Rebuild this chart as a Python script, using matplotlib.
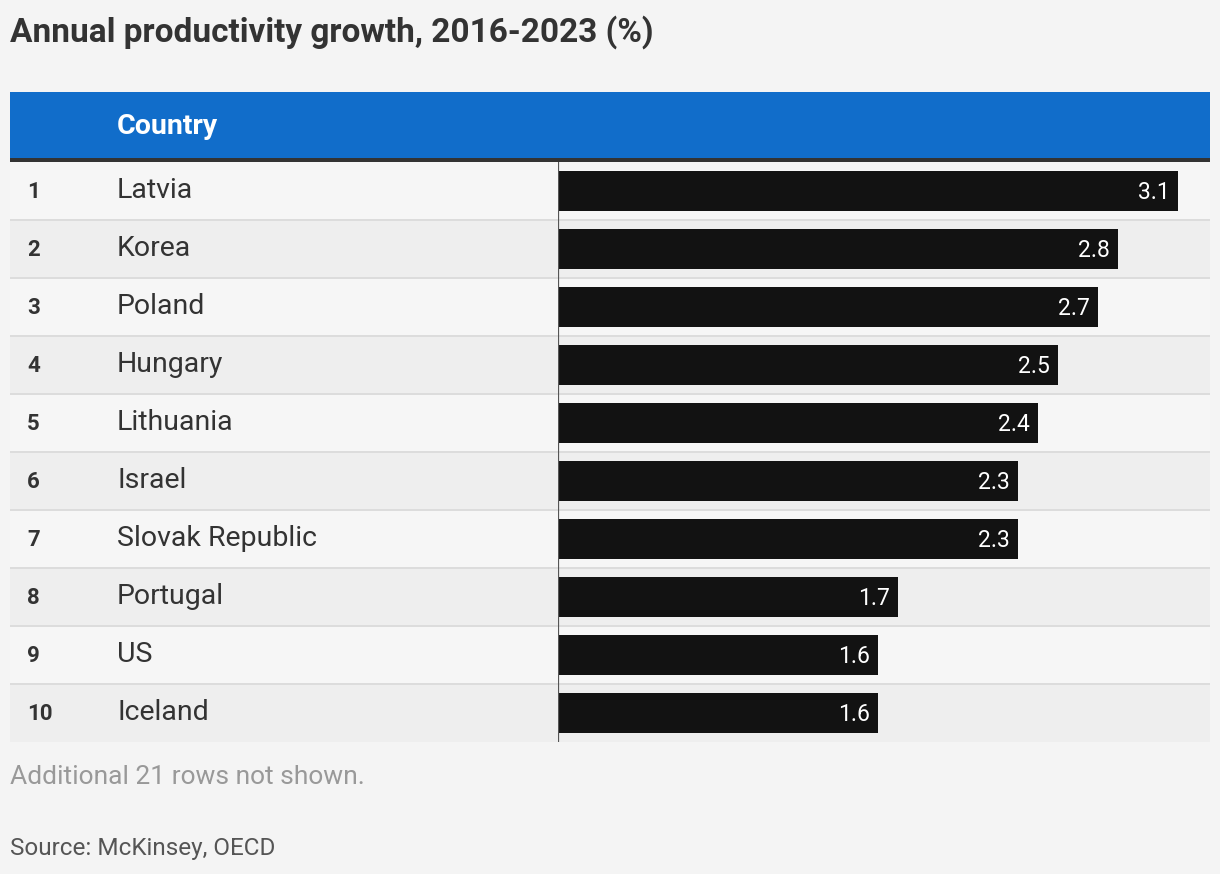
import matplotlib
matplotlib.use("Agg")
import matplotlib.pyplot as plt
from matplotlib.patches import Rectangle

# data
ranks = [1, 2, 3, 4, 5, 6, 7, 8, 9, 10]
countries = ["Latvia", "Korea", "Poland", "Hungary", "Lithuania", "Israel",
             "Slovak Republic", "Portugal", "US", "Iceland"]
growth = [3.1, 2.8, 2.7, 2.5, 2.4, 2.3, 2.3, 1.7, 1.6, 1.6]

title = "Annual productivity growth, 2016-2023 (%)"
header = "Country"
note = "Additional 21 rows not shown."
source = "Source: McKinsey, OECD"

W, H = 1220, 874
BG = "#f4f4f4"
BLUE = "#116dca"
BAR = "#121212"
TXT = "#333333"

plt.rcParams["font.family"] = ["Roboto", "DejaVu Sans"]

fig = plt.figure(figsize=(W / 100, H / 100), dpi=100)
fig.patch.set_facecolor(BG)

# background axes in pixel coordinates
bg = fig.add_axes([0, 0, 1, 1])
bg.set_xlim(0, W)
bg.set_ylim(H, 0)
bg.axis("off")

row_top = 162
row_h = 58
left, right = 10, 1210

# header
bg.add_patch(Rectangle((left, 92), right - left, 68, color=BLUE, lw=0))
bg.add_patch(Rectangle((left, 158), right - left, 4, color="#333333", lw=0))
bg.text(117, 126, header, color="white", fontsize=20.5, fontweight="bold",
        va="center", ha="left")

for i, (r, c) in enumerate(zip(ranks, countries)):
    y0 = row_top + i * row_h
    bg.add_patch(Rectangle((left, y0), right - left, row_h,
                           color="#f6f6f6" if i % 2 == 0 else "#eeeeee", lw=0))
    if i > 0:
        bg.add_patch(Rectangle((left, y0 - 1), right - left, 2, color="#dcdcdc", lw=0))
    bg.text(27, y0 + row_h / 2 + 1, str(r), color=TXT, fontsize=16,
            fontweight="bold", va="center", ha="left")
    bg.text(117, y0 + row_h / 2, c, color=TXT, fontsize=20.5, va="center", ha="left")

bg.text(10, 32, title, color=TXT, fontsize=24, fontweight="bold",
        va="center", ha="left")
bg.text(10, 777, note, color="#999999", fontsize=19, va="center", ha="left")
bg.text(10, 848, source, color="#555555", fontsize=17.5, va="center", ha="left")

# bar axes: x=558..1210 px, rows 162..742 px
x0_px, x1_px = 558, 1210
px_per_unit = 200
y_top_px = row_top
y_bot_px = row_top + row_h * len(countries)
ax = fig.add_axes([x0_px / W, (H - y_bot_px) / H,
                   (x1_px - x0_px) / W, (y_bot_px - y_top_px) / H])
ax.set_xlim(0, (x1_px - x0_px) / px_per_unit)
ax.set_ylim(len(countries) - 0.5, -0.5)
ax.patch.set_alpha(0)
for s in ax.spines.values():
    s.set_visible(False)
ax.set_xticks([])
ax.set_yticks([])

ypos = list(range(len(countries)))
ax.barh(ypos, growth, height=40 / row_h, color=BAR, zorder=2)
ax.axvline(0, color="#555555", lw=1.6, zorder=3)
for y, v in zip(ypos, growth):
    ax.text(v - 0.04, y + 0.02, f"{v:.1f}", color="white", fontsize=16.5,
            va="center", ha="right", zorder=4)

fig.savefig("out.png", dpi=100, facecolor=BG)
